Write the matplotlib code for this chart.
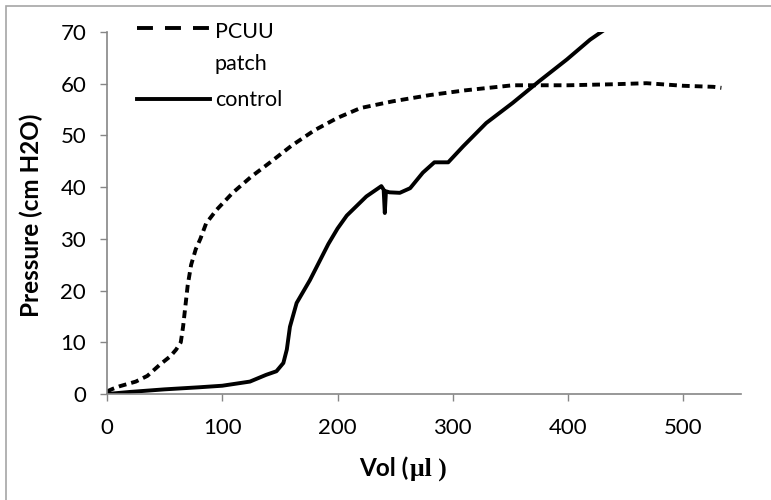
import numpy as np
import matplotlib.pyplot as plt
from matplotlib.patches import Rectangle
from matplotlib.lines import Line2D

# PCUU patch (dashed)
pcuu_vol = [0, 5, 11, 25, 35, 46, 55, 60, 64, 66, 68, 70, 73, 77, 81, 86, 95,
            109, 125, 141, 160, 180, 200, 220, 248, 280, 310, 352, 400, 440,
            468, 500, 526, 533]
pcuu_p = [0.5, 1.0, 1.5, 2.4, 3.5, 5.7, 7.3, 8.6, 10, 13, 17, 21, 25, 28, 30,
          33, 35.6, 38.9, 42, 44.7, 48, 51, 53.4, 55.3, 56.6, 57.8, 58.7, 59.7,
          59.7, 59.9, 60.1, 59.6, 59.4, 59.2]

# control (solid)
ctrl_vol = [0, 20, 50, 80, 100, 124, 138, 147, 153, 156, 158.7, 164.5, 176,
            192, 200, 208, 225, 238, 240, 241, 242, 245, 254, 263, 274, 284,
            296, 309, 329, 352, 375, 399, 419, 432]
ctrl_p = [0, 0.4, 0.9, 1.3, 1.6, 2.4, 3.7, 4.4, 6, 8.6, 13, 17.6, 22, 29, 32,
          34.5, 38.2, 40.2, 39.5, 35, 39.2, 39, 38.9, 39.8, 42.8, 44.8, 44.8,
          47.9, 52.4, 56.3, 60.5, 64.7, 68.5, 70.5]

xticks = [0, 100, 200, 300, 400, 500]
yticks = [0, 10, 20, 30, 40, 50, 60, 70]

plt.rcParams['font.family'] = ['Lato', 'DejaVu Sans']
grey = '#868686'
W, H = 771, 500

fig = plt.figure(figsize=(7.71, 5.0), dpi=100)
ax = fig.add_axes([107 / W, 1 - 394 / H, (741 - 107) / W, (394 - 32) / H])

ax.plot(pcuu_vol, pcuu_p, color='black', lw=2.8, dashes=(2.0, 1.3))
ax.plot(ctrl_vol, ctrl_p, color='black', lw=2.8)

ax.set_xlim(0, 550)
ax.set_ylim(0, 70)
ax.set_xticks(xticks)
ax.set_yticks(yticks)
ax.tick_params(colors=grey, labelcolor='black', labelsize=16, length=5,
               width=1, direction='out')
ax.tick_params(axis='y', pad=10)
ax.tick_params(axis='x', pad=12)
for s in ['top', 'right']:
    ax.spines[s].set_visible(False)
for s in ['left', 'bottom']:
    ax.spines[s].set_color(grey)
    ax.spines[s].set_linewidth(1.2)

fig.text(31 / W, 1 - 215 / H, 'Pressure (cm H2O)', fontsize=17.5,
         fontweight='bold', rotation=90, ha='center', va='center')

# x label with serif micro-litre part
fig.canvas.draw()
r = fig.canvas.get_renderer()
base = 1 - 476 / H
t1 = fig.text(0.5, base, 'Vol (', fontsize=17.5, fontweight='bold',
              ha='left', va='baseline')
t2 = fig.text(0.5, base, 'μl )', fontsize=18.5, fontweight='bold',
              family='Liberation Serif', ha='left', va='baseline')
w1 = t1.get_window_extent(r).width / W
w2 = t2.get_window_extent(r).width / W
x0 = 402 / W - (w1 + w2) / 2
t1.set_x(x0)
t2.set_x(x0 + w1 + 0.002)

# legend
fig.add_artist(Line2D([137 / W, 210 / W], [1 - 28 / H, 1 - 28 / H],
                      transform=fig.transFigure, color='black', lw=2.8,
                      dashes=(4.1, 3.1)))
fig.add_artist(Line2D([137 / W, 210 / W], [1 - 99 / H, 1 - 99 / H],
                      transform=fig.transFigure, color='black', lw=2.8))
fig.text(215 / W, 1 - 38 / H, 'PCUU', fontsize=15.5, va='baseline')
fig.text(215 / W, 1 - 70 / H, 'patch', fontsize=15.5, va='baseline')
fig.text(215 / W, 1 - 106 / H, 'control', fontsize=15.5, va='baseline')

# outer chart border
fig.patches.append(Rectangle((6 / W, -0.1), 1.2, 1 - 6 / H + 0.1,
                             transform=fig.transFigure, fill=False,
                             edgecolor='#a6a6a6', lw=1.2))

fig.savefig('out.png', dpi=100)
